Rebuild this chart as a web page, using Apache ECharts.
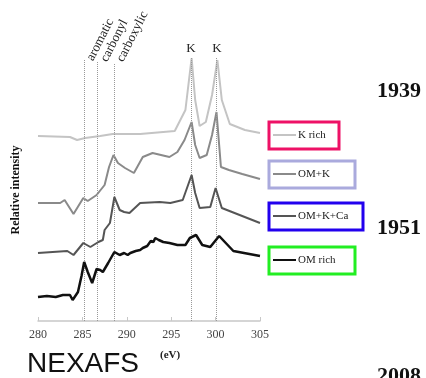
<!DOCTYPE html>
<html>
<head>
<meta charset="utf-8">
<script src="https://cdn.jsdelivr.net/npm/echarts@6/dist/echarts.min.js"></script>
<style>
  html, body { margin: 0; padding: 0; background: #fff; }
  #chart { width: 426px; height: 378px; }
</style>
</head>
<body>
<div id="chart"></div>
<script>
// photon energy (eV) vs relative intensity (stacked, arbitrary offset)
const kRich = [
  [280, 185], [283.6, 184], [284.4, 181], [285.3, 183], [287, 185], [288.4, 187],
  [291.5, 187], [295.4, 190], [296.6, 211], [297.3, 263], [297.7, 221], [298.2, 195],
  [298.9, 199], [299.6, 226], [300.2, 261], [300.7, 221], [301.6, 197], [303.3, 191], [305, 188]
];
const omK = [
  [280, 118], [282.5, 118], [283, 121], [284, 107], [285.1, 123], [285.6, 120],
  [286.6, 126], [287.5, 136], [288, 154], [288.5, 166], [289, 158], [289.8, 153],
  [290.8, 148], [291.8, 164], [292.9, 168], [294.8, 164], [295.7, 169], [296.5, 181],
  [297.3, 199], [297.7, 176], [298.2, 163], [299, 166], [299.6, 186], [300.1, 209],
  [300.6, 154], [301.5, 151], [303, 147], [305, 142]
];
const omKCa = [
  [280, 68], [283.3, 70], [284, 66], [285.1, 78], [285.9, 74], [286.8, 79], [287.3, 81],
  [287.5, 91], [288.1, 98], [288.6, 124], [289.2, 111], [289.7, 109], [290.3, 108],
  [291.5, 118], [293.7, 119], [294.9, 118], [296.3, 121], [297.3, 146], [297.7, 128],
  [298.2, 113], [299.4, 114], [300.0, 133], [300.7, 113], [305, 98]
];
const omRich = [
  [280, 24], [281, 25], [282, 24], [282.8, 26], [283.6, 26], [283.9, 21], [284.5, 29],
  [284.9, 45], [285.2, 59], [285.6, 49], [286.1, 38], [286.6, 52], [287.0, 51], [287.3, 49],
  [287.9, 58], [288.6, 69], [289.2, 66], [289.7, 68], [290.1, 66], [290.4, 68], [291.0, 70],
  [291.5, 71], [291.8, 73], [292.3, 75], [292.7, 80], [293.0, 79], [293.2, 83], [293.6, 81],
  [294.1, 79], [294.8, 78], [295.7, 76], [296.6, 76], [297.1, 83], [297.8, 86], [298.5, 76],
  [299.4, 74], [300.4, 85], [302.0, 70], [305, 65]
];
const seriesNames = ["K rich", "OM+K", "OM+K+Ca", "OM rich"];
const seriesColors = ["#c4c4c4", "#8a8a8a", "#555555", "#111111"];
const boxColors = ["#ee1166", "#aaaadd", "#2200ee", "#22ee22"];
const boxWidths = [70, 86, 94, 86];
const boxTops = [122, 161, 203, 247];

// reference lines: [energy, top of line (intensity)]
const edgeLines = [[285.2, 261], [286.7, 259], [288.6, 258], [297.3, 264], [300.1, 264]];
const edgeLabels = ["aromatic", "carbonyl", "carboxylic"];
const years = ["1939", "1951", "2008"];

const chart = echarts.init(document.getElementById("chart"));
const serif = "'Liberation Serif', 'DejaVu Serif', serif";

const graphics = [];
// legend boxes
seriesNames.forEach((name, i) => {
  const top = boxTops[i];
  graphics.push({
    type: "rect",
    shape: { x: 269, y: top, width: boxWidths[i], height: 27 },
    style: { fill: "#fff", stroke: boxColors[i], lineWidth: 3 }
  });
  graphics.push({
    type: "line",
    shape: { x1: 273, y1: top + 13, x2: 296, y2: top + 13 },
    style: { stroke: seriesColors[i], lineWidth: 2 }
  });
  graphics.push({
    type: "text",
    x: 298, y: top + 13,
    style: { text: name, font: "11px " + serif, fill: "#222", verticalAlign: "middle" }
  });
});
// years
[[91, years[0]], [228, years[1]], [376, years[2]]].forEach(([y, t]) => {
  graphics.push({
    type: "text", x: 377, y: y,
    style: { text: t, font: "bold 22px " + serif, fill: "#111", verticalAlign: "middle" }
  });
});
// edge labels, rotated
[[90, 60], [104, 61], [120, 61]].forEach(([x, y], i) => {
  graphics.push({
    type: "text", x: x, y: y, rotation: 1.1,
    style: { text: edgeLabels[i], font: "13px " + serif, fill: "#222", verticalAlign: "middle" }
  });
});
// K labels
[191, 217].forEach((x) => {
  graphics.push({
    type: "text", x: x, y: 49,
    style: { text: "K", font: "13px " + serif, fill: "#222", align: "center", verticalAlign: "middle" }
  });
});
graphics.push({
  type: "text", x: 16, y: 190, rotation: Math.PI / 2,
  style: { text: "Relative intensity", font: "bold 12px " + serif, fill: "#111", align: "center", verticalAlign: "middle" }
});
graphics.push({
  type: "text", x: 27, y: 364,
  style: { text: "NEXAFS", font: "28px 'Liberation Sans', Arial, sans-serif", fill: "#111", verticalAlign: "middle" }
});
graphics.push({
  type: "text", x: 160, y: 355,
  style: { text: "(eV)", font: "bold 11px " + serif, fill: "#222", verticalAlign: "middle" }
});

const seriesData = [kRich, omK, omKCa, omRich];
const series = seriesData.map((d, i) => ({
  name: seriesNames[i],
  type: "line",
  data: d,
  showSymbol: false,
  symbol: "none",
  lineStyle: { color: seriesColors[i], width: i === 3 ? 2.5 : 2 },
  z: 3 + i
}));
series.push({
  type: "line",
  data: [],
  silent: true,
  markLine: {
    symbol: "none",
    label: { show: false },
    lineStyle: { color: "#999", type: "dotted", width: 1 },
    data: edgeLines.map(([x, top]) => [{ coord: [x, 0] }, { coord: [x, top] }])
  }
});

chart.setOption({
  backgroundColor: "#fff",
  animation: false,
  grid: { left: 38, right: 166, top: 57, bottom: 57 },
  xAxis: {
    type: "value",
    min: 280,
    max: 305,
    interval: 5,
    axisLine: { lineStyle: { color: "#c8c8c8", width: 1.5 } },
    axisTick: { inside: true, length: 4, lineStyle: { color: "#c8c8c8" } },
    splitLine: { show: false },
    axisLabel: { color: "#444", fontSize: 12, fontFamily: serif, margin: 8 }
  },
  yAxis: {
    type: "value",
    min: 0,
    max: 264,
    show: false
  },
  graphic: graphics,
  series: series
});
</script>
</body>
</html>
